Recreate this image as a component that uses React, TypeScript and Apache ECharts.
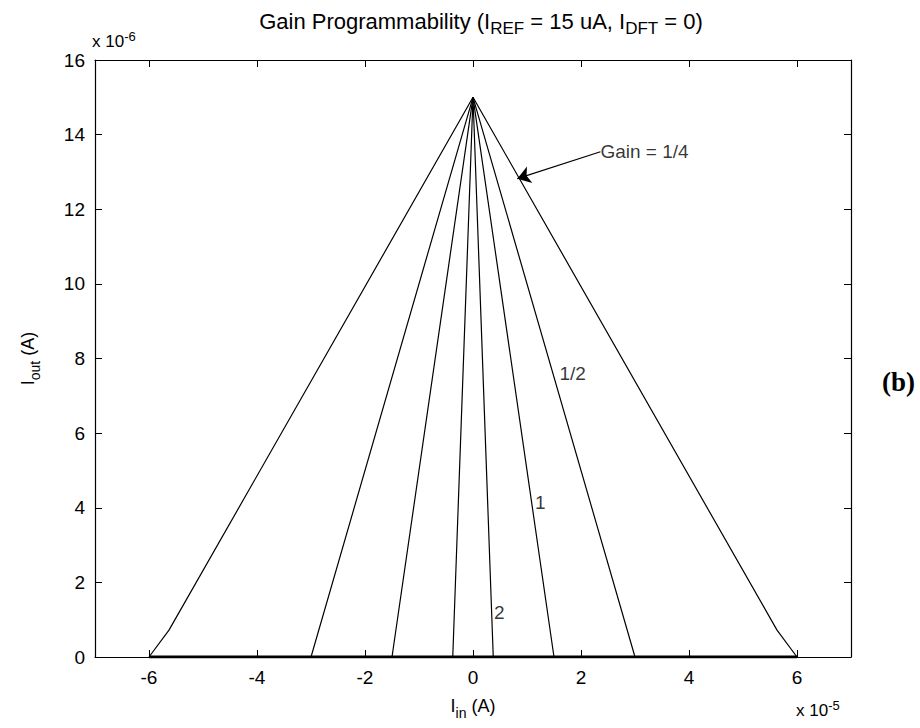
import React, { useEffect, useRef } from "react";
import * as echarts from "echarts";

// Axis tick positions (Iin in units of 1e-5 A, Iout in units of 1e-6 A)
const X_TICKS = [-6, -4, -2, 0, 2, 4, 6];

// Transfer curves for each programmed gain: [Iin, Iout]
const GAIN_QUARTER = [[-6, 0], [-5.63, 0.72], [0, 15], [5.63, 0.72], [6, 0]];
const GAIN_HALF = [[-6, 0], [-3, 0], [0, 15], [3, 0], [6, 0]];
const GAIN_ONE = [[-6, 0], [-1.5, 0], [0, 15], [1.5, 0], [6, 0]];
const GAIN_TWO = [[-6, 0], [-0.375, 0], [0, 15], [0.375, 0], [6, 0]];
// Shared zero-output segment where all curves overlap
const ZERO_FLOOR = [[-6, 0], [6, 0]];

// Curve labels: [x, y, text]
const CURVE_LABELS = [
  [2.36, 13.54, "Gain = 1/4"],
  [1.6, 7.6, "1/2"],
  [1.15, 4.13, "1"],
  [0.39, 1.2, "2"],
];
const ARROW_FROM = [2.36, 13.54];
const ARROW_TO = [0.82, 12.82];

const FONT = "'Liberation Sans', Arial, sans-serif";
const INK = "#000";

export default function App() {
  const ref = useRef<HTMLDivElement>(null);

  useEffect(() => {
    if (!ref.current) return;
    const chart = echarts.init(ref.current, undefined, { renderer: "svg" });

    const curve = (data: number[][], width = 1.2) => ({
      type: "line",
      data,
      showSymbol: false,
      symbol: "none",
      lineStyle: { color: INK, width },
      silent: true,
      z: 3,
    });

    const boxAxisX = (position: string, showLabel: boolean) => ({
      type: "value",
      position,
      min: -7,
      max: 7,
      interval: 1,
      splitLine: { show: false },
      axisLine: { show: true, onZero: false, lineStyle: { color: INK, width: 1.2 } },
      axisTick: { show: true, inside: true, length: 7, customValues: X_TICKS, lineStyle: { color: INK } },
      axisLabel: {
        show: showLabel,
        customValues: X_TICKS,
        color: INK,
        fontFamily: FONT,
        fontSize: 19,
        margin: 11,
      },
    });

    const boxAxisY = (position: string, showLabel: boolean) => ({
      type: "value",
      position,
      min: 0,
      max: 16,
      interval: 2,
      splitLine: { show: false },
      axisLine: { show: true, onZero: false, lineStyle: { color: INK, width: 1.2 } },
      axisTick: { show: true, inside: true, length: 7, lineStyle: { color: INK } },
      axisLabel: {
        show: showLabel,
        color: INK,
        fontFamily: FONT,
        fontSize: 19,
        margin: 10,
      },
    });

    const subStyle = (size: number) => ({
      fontFamily: FONT,
      fontSize: size,
      color: INK,
      verticalAlign: "bottom",
      padding: [0, 0, -5, 0],
    });

    const xMain: any = boxAxisX("bottom", true);
    xMain.name = "I{sub|in} (A)";
    xMain.nameLocation = "middle";
    xMain.nameGap = 40;
    xMain.nameTextStyle = { color: INK, fontFamily: FONT, fontSize: 18, rich: { sub: subStyle(14) } };

    const yMain: any = boxAxisY("left", true);
    yMain.name = "I{sub|out} (A)";
    yMain.nameLocation = "middle";
    yMain.nameGap = 58;
    yMain.nameRotate = 90;
    yMain.nameTextStyle = { color: INK, fontFamily: FONT, fontSize: 18, rich: { sub: subStyle(14) } };

    const supText = (left: number, top: number, text: string) => ({
      type: "text",
      left,
      top,
      style: {
        text,
        fill: INK,
        font: `17px ${FONT}`,
        rich: { sup: { fontFamily: FONT, fontSize: 13, fill: INK, verticalAlign: "top", padding: [0, 0, 10, 0] } },
      },
    });

    chart.setOption({
      animation: false,
      backgroundColor: "#fff",
      title: {
        text: "Gain Programmability (I{sub|REF} = 15 uA, I{sub|DFT} = 0)",
        left: 476,
        textAlign: "center",
        top: 5,
        textStyle: {
          color: INK,
          fontFamily: FONT,
          fontSize: 22,
          fontWeight: "normal",
          rich: { sub: subStyle(17) },
        },
      },
      grid: { left: 95, right: 69, top: 60, bottom: 71, containLabel: false },
      xAxis: [xMain, boxAxisX("top", false)],
      yAxis: [yMain, boxAxisY("right", false)],
      graphic: [
        supText(92, 30, "x 10{sup|-6}"),
        supText(796, 699, "x 10{sup|-5}"),
        {
          type: "text",
          left: 882,
          top: 368,
          style: {
            text: "(b)",
            fill: INK,
            font: `bold 27px 'Liberation Serif', 'Times New Roman', serif`,
          },
        },
      ],
      series: [
        curve(GAIN_QUARTER),
        curve(GAIN_HALF),
        curve(GAIN_ONE),
        curve(GAIN_TWO),
        curve(ZERO_FLOOR, 3),
        {
          type: "scatter",
          data: CURVE_LABELS,
          symbolSize: 0,
          silent: true,
          z: 4,
          label: {
            show: true,
            position: "right",
            distance: 0,
            formatter: (p: any) => p.data[2],
            color: INK,
            fontFamily: FONT,
            fontSize: 19,
          },
          markLine: {
            silent: true,
            symbol: ["none", "arrow"],
            symbolSize: 13,
            label: { show: false },
            lineStyle: { color: INK, width: 1.2, type: "solid" },
            data: [[{ coord: ARROW_FROM }, { coord: ARROW_TO }]],
          },
        },
      ],
    });

    return () => chart.dispose();
  }, []);

  return (
    <div
      ref={ref}
      style={{ position: "absolute", left: 0, top: 0, width: 920, height: 728, background: "#fff" }}
    />
  );
}
